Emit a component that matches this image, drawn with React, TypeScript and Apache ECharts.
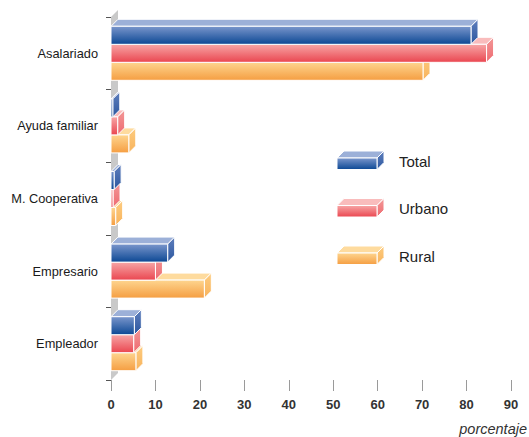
import React, { useEffect, useRef } from "react";
import * as echarts from "echarts";

const categories = ["Asalariado", "Ayuda familiar", "M. Cooperativa", "Empresario", "Empleador"];
const seriesNames = ["Total", "Urbano", "Rural"];
const totalValues = [81.0, 0.4, 0.7, 12.75, 5.25];
const urbanoValues = [84.5, 1.5, 0.45, 10.0, 5.1];
const ruralValues = [70.2, 4.0, 1.05, 21.0, 5.6];
const xTicks = [0, 10, 20, 30, 40, 50, 60, 70, 80, 90];
const xAxisName = "porcentaje";

const palettes = [
  { front: ["#7a96cc", "#0c4894"], top: "#9cb0d8", side: ["#5f7fbd", "#2c579f"] },
  { front: ["#f7a6a6", "#ea4650"], top: "#f9bcbc", side: ["#f39898", "#ee6a70"] },
  { front: ["#fed58f", "#f59e42"], top: "#fedb9e", side: ["#fdcc80", "#f8b35c"] },
];

const D = 7;

function grad(c: string[]) {
  return new echarts.graphic.LinearGradient(0, 0, 0, 1, [
    { offset: 0, color: c[0] },
    { offset: 1, color: c[1] },
  ]);
}

function box(x0: number, y0: number, x1: number, y1: number, p: any) {
  return [
    {
      type: "polygon",
      shape: { points: [[x0, y0], [x0 + D, y0 - D], [x1 + D, y0 - D], [x1, y0]] },
      style: { fill: p.top, stroke: "#ffffff", lineWidth: 1 },
    },
    {
      type: "polygon",
      shape: { points: [[x1, y0], [x1 + D, y0 - D], [x1 + D, y1 - D], [x1, y1]] },
      style: { fill: grad(p.side), stroke: "#ffffff", lineWidth: 1 },
    },
    {
      type: "rect",
      shape: { x: x0, y: y0, width: Math.max(x1 - x0, 0), height: y1 - y0 },
      style: { fill: grad(p.front), stroke: "#ffffff", lineWidth: 1 },
    },
  ];
}

export default function App() {
  const ref = useRef<HTMLDivElement>(null);
  useEffect(() => {
    if (!ref.current) return;
    const chart = echarts.init(ref.current, undefined, { renderer: "svg" });
    const valueSets = [totalValues, urbanoValues, ruralValues];
    const barData: number[][] = [];
    categories.forEach((_, ci) => {
      for (let s = 2; s >= 0; s--) barData.push([ci, s, valueSets[s][ci]]);
    });

    const legendGraphics: any[] = [];
    seriesNames.forEach((name, i) => {
      const y0 = 158 + i * 47.5;
      const y1 = y0 + 11.5;
      box(337, y0, 377, y1, palettes[i]).forEach((el) => legendGraphics.push(el));
      legendGraphics.push({
        type: "text",
        x: 399,
        y: (y0 + y1) / 2 - 2.5,
        style: {
          text: name,
          fill: "#222222",
          font: "15px 'Liberation Sans', Arial, sans-serif",
          verticalAlign: "middle",
          align: "left",
        },
      });
    });

    chart.setOption({
      animation: false,
      grid: { left: 111, right: 18, top: 17, bottom: 57, containLabel: false },
      xAxis: {
        type: "value",
        min: xTicks[0],
        max: xTicks[xTicks.length - 1],
        interval: 10,
        axisLine: { show: false },
        axisTick: { show: true, length: 11, lineStyle: { color: "#9a9a9a", width: 1 } },
        splitLine: { show: false },
        axisLabel: {
          margin: 18,
          color: "#333333",
          fontWeight: "bold",
          fontSize: 13,
          fontFamily: "'Liberation Sans', Arial, sans-serif",
        },
      },
      yAxis: {
        type: "category",
        data: categories,
        inverse: true,
        offset: 3,
        axisLine: { show: false },
        axisTick: { show: true, length: 5, lineStyle: { color: "#555555", width: 1 } },
        axisLabel: {
          margin: 10,
          color: "#1a1a1a",
          fontSize: 12.8,
          fontFamily: "'Liberation Sans', Arial, sans-serif",
        },
      },
      graphic: [
        ...legendGraphics,
        {
          type: "text",
          right: 2,
          top: 421,
          style: {
            text: xAxisName,
            fill: "#333333",
            font: "italic 14.5px 'Liberation Sans', Arial, sans-serif",
          },
        },
      ],
      series: [
        {
          type: "custom",
          name: "wall",
          z: 1,
          silent: true,
          data: [[0]],
          renderItem: (params: any, api: any) => {
            const band = api.size([0, 1])[1];
            const first = api.coord([0, 0]);
            const last = api.coord([0, categories.length - 1]);
            const x0 = first[0];
            const top = first[1] - band / 2;
            const bottom = last[1] + band / 2;
            return {
              type: "polygon",
              shape: { points: [[x0, top], [x0 + D, top - D], [x0 + D, bottom - D], [x0, bottom]] },
              style: { fill: "#c9c9c9" },
            };
          },
        },
        {
          type: "custom",
          name: "bars",
          z: 2,
          encode: { x: 2, y: 0 },
          data: barData,
          renderItem: (params: any, api: any) => {
            const ci = api.value(0);
            const s = api.value(1);
            const v = api.value(2);
            const start = api.coord([0, ci]);
            const end = api.coord([v, ci]);
            const band = api.size([0, 1])[1];
            const slot = band * 0.248;
            const y0 = start[1] + (s - 1.5) * slot;
            const y1 = y0 + slot;
            return { type: "group", children: box(start[0], y0, end[0], y1, palettes[s]) };
          },
        },
      ],
    });
    return () => chart.dispose();
  }, []);
  return (
    <div
      ref={ref}
      style={{ position: "fixed", left: 0, top: 0, width: 529, height: 437, background: "#ffffff" }}
    />
  );
}
